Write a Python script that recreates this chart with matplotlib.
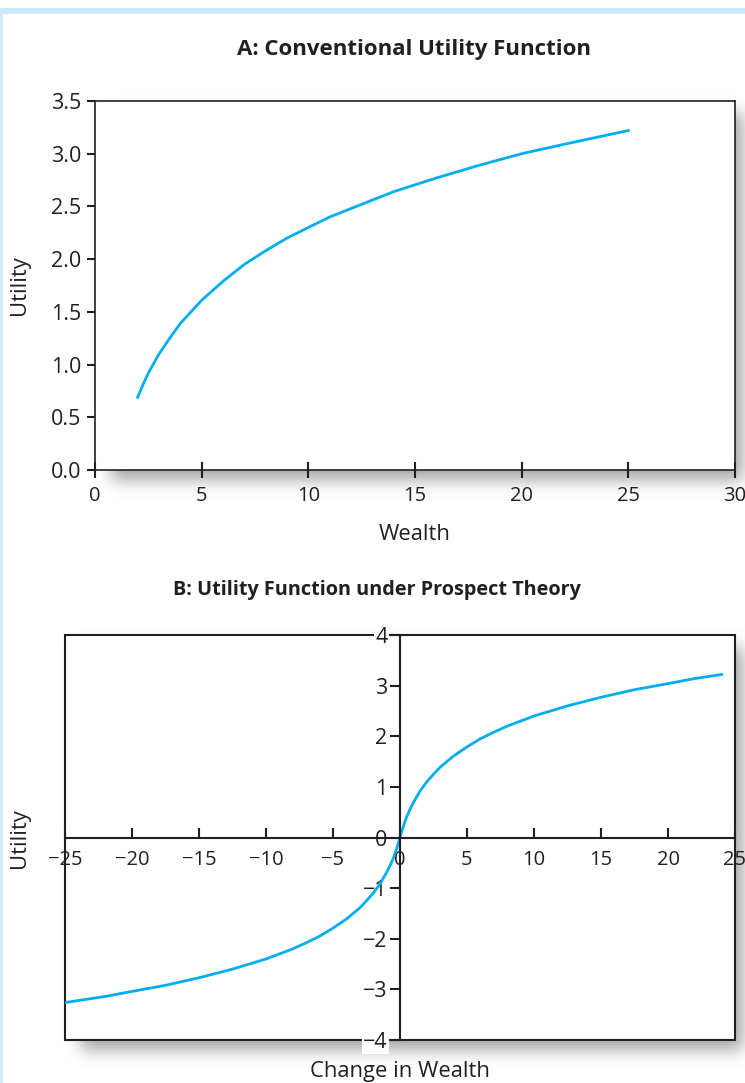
import numpy as np
import matplotlib
matplotlib.use("Agg")
import matplotlib.pyplot as plt
from matplotlib.patches import Rectangle

# ---------------- data ----------------
wealth = [2, 2.25, 2.5, 2.75, 3, 3.5, 4, 4.5, 5, 6, 7, 8, 9, 10, 11, 12, 14,
          16, 18, 20, 22, 25]
utility_a = [0.69, 0.81, 0.92, 1.01, 1.10, 1.25, 1.39, 1.50, 1.61, 1.79, 1.95,
             2.08, 2.20, 2.30, 2.40, 2.48, 2.64, 2.77, 2.89, 3.00, 3.09, 3.22]

change = [-25, -22, -20, -17.5, -15, -12.5, -10, -8, -7, -6, -5, -4, -3, -2.5,
          -2, -1.5, -1, -0.75, -0.5, -0.3, -0.15, 0, 0.15, 0.3, 0.5, 0.75, 1,
          1.5, 2, 2.5, 3, 4, 5, 6, 7, 8, 10, 12.5, 15, 17.5, 20, 22, 24]
utility_b = [-3.26, -3.14, -3.04, -2.92, -2.77, -2.60, -2.40, -2.20, -2.08,
             -1.95, -1.79, -1.61, -1.39, -1.25, -1.10, -0.92, -0.69, -0.56,
             -0.41, -0.26, -0.14, 0.0, 0.14, 0.26, 0.41, 0.56, 0.69, 0.92,
             1.10, 1.25, 1.39, 1.61, 1.79, 1.95, 2.08, 2.20, 2.40, 2.60, 2.77,
             2.92, 3.04, 3.14, 3.22]

a_xticks = [0, 5, 10, 15, 20, 25, 30]
a_yticks = [0.0, 0.5, 1.0, 1.5, 2.0, 2.5, 3.0, 3.5]
b_xticks = [-25, -20, -15, -10, -5, 0, 5, 10, 15, 20, 25]
b_yticks = [-4, -3, -2, -1, 0, 1, 2, 3, 4]

# ---------------- style ----------------
plt.rcParams['font.family'] = ['Open Sans', 'DejaVu Sans']
INK = '#231f20'
CURVE = '#00aeef'
W, H = 745, 1083
fig = plt.figure(figsize=(W / 100, H / 100), dpi=100)
fig.patch.set_facecolor('white')

# --------- drop shadows + light blue frame as a background image ---------
def gauss_blur(img, sigma):
    r = int(3 * sigma)
    k = np.exp(-0.5 * (np.arange(-r, r + 1) / sigma) ** 2)
    k /= k.sum()
    out = np.apply_along_axis(lambda m: np.convolve(m, k, mode='same'), 0, img)
    out = np.apply_along_axis(lambda m: np.convolve(m, k, mode='same'), 1, out)
    return out

mask = np.zeros((H, W))
for (x0, y0, x1, y1) in [(95, 101, 735, 470), (65, 635, 735, 1040)]:
    mask[y0 + 12:y1 + 10, x0 + 16:x1 + 8] = 1.0
mask = gauss_blur(mask, 8) * 0.7
img = np.ones((H, W, 4))
img[..., :3] = 0.5
img[..., 3] = mask
# light blue frame
blue = np.array([0xcd, 0xea, 0xf9]) / 255
img[8:14, :, :3] = blue
img[8:14, :, 3] = 1
img[8:, 0:3, :3] = blue
img[8:, 0:3, 3] = 1
fig.figimage(img, xo=0, yo=0, origin='upper', zorder=-1)

TICK_FS = 15.5
XTICK_FS = 14.5
LAB_FS = 15.8

# ---------------- Panel A ----------------
axA = fig.add_axes([95 / W, 1 - 470 / H, 640 / W, 369 / H])
axA.plot(wealth, utility_a, color=CURVE, lw=2.0)
axA.set_xlim(0, 30)
axA.set_ylim(0, 3.5)
axA.set_xticks(a_xticks)
axA.set_yticks(a_yticks)
axA.set_yticklabels([f"{v:.1f}" for v in a_yticks])
for s in axA.spines.values():
    s.set_color(INK)
    s.set_linewidth(1.2)
axA.tick_params(axis='x', direction='inout', length=11, width=1.5,
                colors=INK, labelsize=XTICK_FS, pad=6)
axA.tick_params(axis='y', direction='out', length=6, width=1.5,
                colors=INK, labelsize=TICK_FS, pad=4)
fig.text(415 / W, 1 - 535 / H, 'Wealth', ha='center', va='center',
         fontsize=LAB_FS, color=INK)
fig.text(20 / W, 1 - 285 / H, 'Utility', ha='center', va='center',
         rotation=90, fontsize=LAB_FS, color=INK)
fig.text(414 / W, 1 - 50 / H, 'A: Conventional Utility Function',
         ha='center', va='center', fontsize=16, fontweight='bold',
         color=INK)

# ---------------- Panel B ----------------
axB = fig.add_axes([65 / W, 1 - 1040 / H, 670 / W, 405 / H])
axB.plot(change, utility_b, color=CURVE, lw=2.0, zorder=2)
axB.set_xlim(-25, 25)
axB.set_ylim(-4, 4)
axB.spines['left'].set_position(('data', 0))
axB.spines['bottom'].set_position(('data', 0))
axB.spines['top'].set_visible(False)
axB.spines['right'].set_visible(False)
for s in axB.spines.values():
    s.set_color(INK)
    s.set_linewidth(1.5)
axB.add_patch(Rectangle((0, 0), 1, 1, transform=axB.transAxes, fill=False,
                        ec=INK, lw=1.5, zorder=1, clip_on=False))
axB.set_xticks(b_xticks)
axB.set_yticks(b_yticks)
axB.set_xticklabels([str(v).replace('-', '\u2212') for v in b_xticks])
axB.set_yticklabels([str(v).replace('-', '\u2212') for v in b_yticks])
axB.tick_params(axis='x', direction='in', length=7, width=1.5,
                colors=INK, labelsize=XTICK_FS, pad=9)
axB.tick_params(axis='y', direction='out', length=7, width=1.5,
                colors=INK, labelsize=TICK_FS, pad=2)
for lbl in axB.get_yticklabels():
    lbl.set_bbox(dict(fc='white', ec='none', pad=1.0))
fig.text(400 / W, 1 - 1072 / H, 'Change in Wealth', ha='center', va='center',
         fontsize=LAB_FS, color=INK)
fig.text(20 / W, 1 - 838 / H, 'Utility', ha='center', va='center',
         rotation=90, fontsize=LAB_FS, color=INK)
fig.text(377 / W, 1 - 590 / H, 'B: Utility Function under Prospect Theory',
         ha='center', va='center', fontsize=14.3, fontweight='bold',
         color=INK)

fig.savefig('out.png', dpi=100)
